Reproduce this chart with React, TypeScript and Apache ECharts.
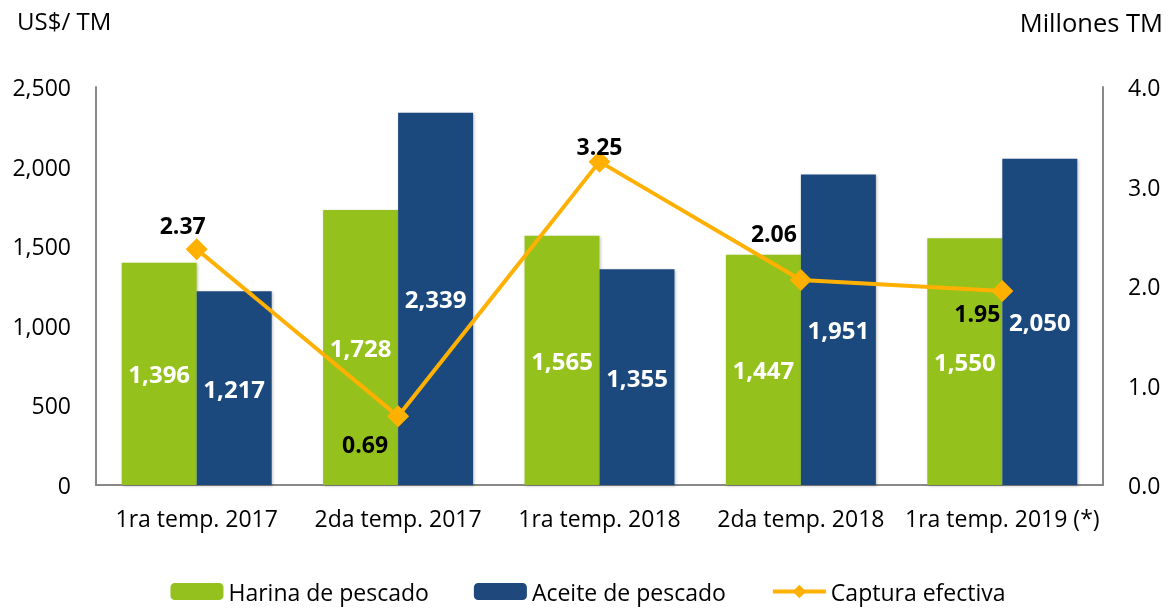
import React, { useEffect, useRef } from "react";
import * as echarts from "echarts";

const categories = ["1ra temp. 2017", "2da temp. 2017", "1ra temp. 2018", "2da temp. 2018", "1ra temp. 2019 (*)"];
const harina = [1396, 1728, 1565, 1447, 1550];
const aceite = [1217, 2339, 1355, 1951, 2050];
const captura = [2.37, 0.69, 3.25, 2.06, 1.95];
const leftTicks = [0, 500, 1000, 1500, 2000, 2500];
const rightTicks = [0, 1, 2, 3, 4];

const FONT = "'Open Sans', sans-serif";
const GREEN = "#95C11F";
const BLUE = "#1F497D";
const ORANGE = "#FFB000";

const lineLabelPos: any[] = [
  { position: "top", offset: [-14, 3] },
  { position: "bottom", offset: [-33, 0] },
  { position: "top", offset: [0, 12] },
  { position: "top", offset: [-27, -20] },
  { position: "bottom", offset: [-25, -5] },
];

export default function App() {
  const ref = useRef<HTMLDivElement>(null);
  useEffect(() => {
    const chart = echarts.init(ref.current!, null, { renderer: "svg" });
    const barLabel = {
      show: true,
      position: "inside",
      color: "#fff",
      fontWeight: "bold",
      fontSize: 24,
      fontFamily: FONT,
      formatter: (p: any) => p.value.toLocaleString("en-US"),
    };
    chart.setOption({
      animation: false,
      textStyle: { fontFamily: FONT },
      grid: { left: 96, right: 73, top: 87, bottom: 123, containLabel: false },
      legend: {
        bottom: 0,
        left: "center",
        itemWidth: 53,
        itemHeight: 17,
        itemGap: 45,
        lineStyle: { width: 4 },
        textStyle: { fontSize: 23, color: "#000", fontFamily: FONT },
        data: ["Harina de pescado", "Aceite de pescado", "Captura efectiva"],
      },
      graphic: [
        { type: "text", left: 17, top: 8, style: { text: "US$/ TM", fontSize: 24, fontFamily: FONT, fill: "#000" } },
        { type: "text", right: 13, top: 9, style: { text: "Millones TM", fontSize: 25.5, fontFamily: FONT, fill: "#000" } },
      ],
      xAxis: {
        type: "category",
        data: categories,
        axisLine: { lineStyle: { color: "#888", width: 2 } },
        axisTick: { show: false },
        axisLabel: { fontSize: 23, color: "#000", margin: 21, fontFamily: FONT, interval: 0 },
      },
      yAxis: [
        {
          type: "value",
          min: leftTicks[0],
          max: leftTicks[leftTicks.length - 1],
          interval: 500,
          splitLine: { show: false },
          axisLine: { show: true, lineStyle: { color: "#888", width: 2 } },
          axisTick: { show: false },
          axisLabel: {
            fontSize: 23,
            color: "#000",
            margin: 25,
            fontFamily: FONT,
            formatter: (v: number) => v.toLocaleString("en-US"),
          },
        },
        {
          type: "value",
          min: rightTicks[0],
          max: rightTicks[rightTicks.length - 1],
          interval: 1,
          splitLine: { show: false },
          axisLine: { show: true, lineStyle: { color: "#888", width: 2 } },
          axisTick: { show: false },
          axisLabel: {
            fontSize: 23,
            color: "#000",
            margin: 25,
            fontFamily: FONT,
            formatter: (v: number) => v.toFixed(1),
          },
        },
      ],
      series: [
        {
          name: "Harina de pescado",
          type: "bar",
          data: harina,
          barWidth: 75,
          barGap: "0%",
          itemStyle: { color: GREEN, shadowColor: "rgba(0,0,0,0.25)", shadowBlur: 3, shadowOffsetX: 1, shadowOffsetY: 1 },
          label: barLabel,
        },
        {
          name: "Aceite de pescado",
          type: "bar",
          data: aceite,
          barWidth: 75,
          barGap: "0%",
          itemStyle: { color: BLUE, shadowColor: "rgba(0,0,0,0.25)", shadowBlur: 3, shadowOffsetX: 1, shadowOffsetY: 1 },
          label: barLabel,
        },
        {
          name: "Captura efectiva",
          type: "line",
          yAxisIndex: 1,
          data: captura.map((v, i) => ({
            value: v,
            label: {
              show: true,
              ...lineLabelPos[i],
              color: "#000",
              fontWeight: "bold",
              fontSize: 23,
              fontFamily: FONT,
              formatter: (p: any) => p.value.toFixed(2),
            },
          })),
          symbol: "diamond",
          symbolSize: 22,
          lineStyle: { color: ORANGE, width: 4 },
          itemStyle: { color: ORANGE },
        },
      ],
    });
    return () => chart.dispose();
  }, []);
  return <div ref={ref} style={{ position: "fixed", left: 0, top: 0, width: 1176, height: 608 }} />;
}
